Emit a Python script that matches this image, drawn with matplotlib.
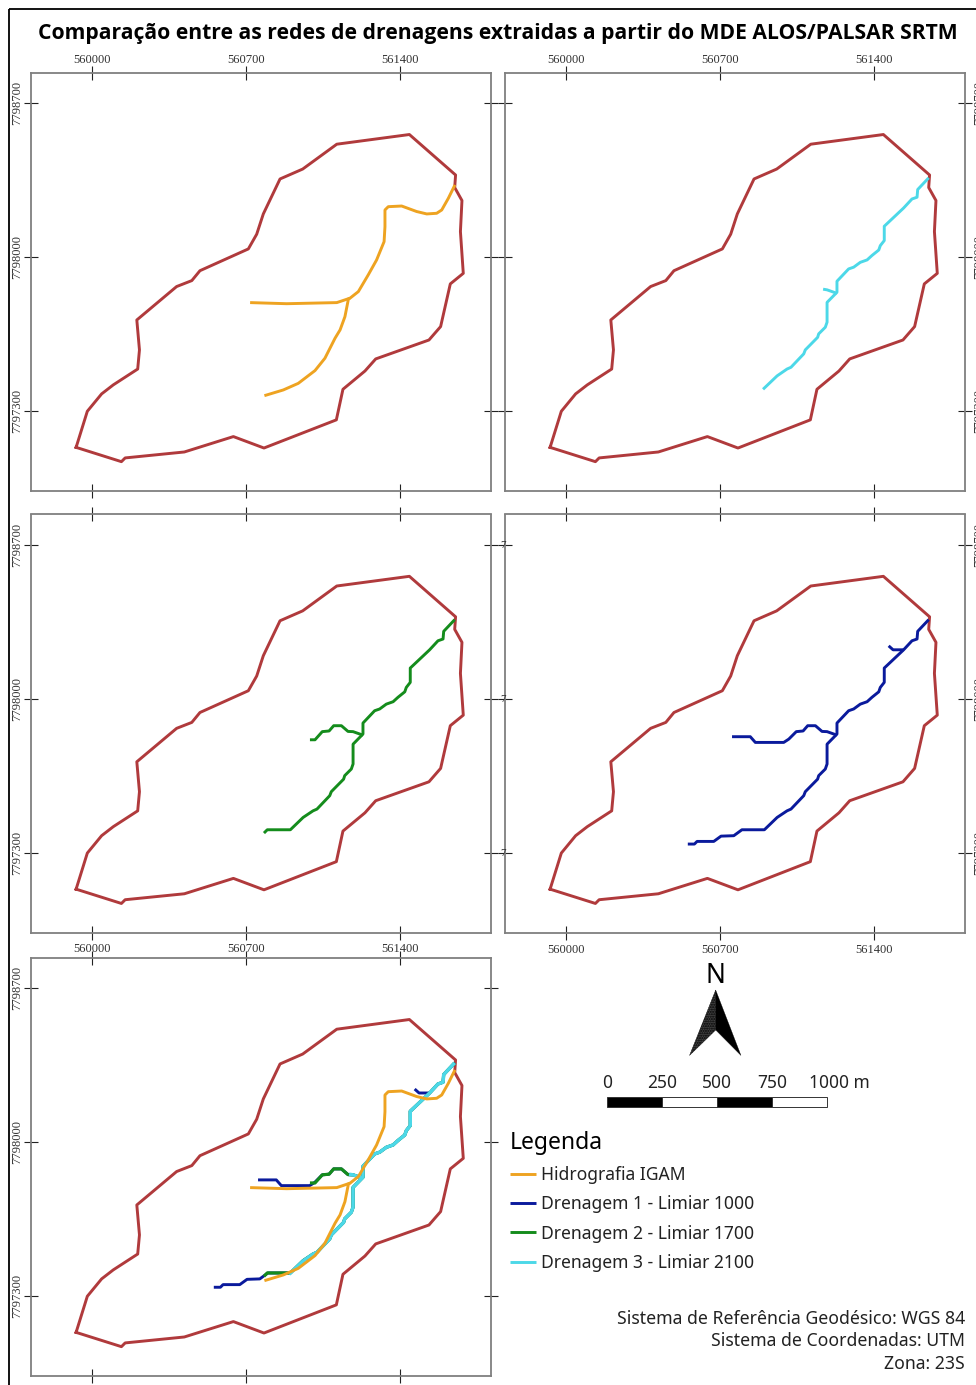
import matplotlib
matplotlib.use("Agg")
import matplotlib.pyplot as plt
from matplotlib.patches import Polygon, Rectangle

W, H = 976, 1385

# limite da bacia (UTM 23S, metros)
bacia_x = [559929, 559980, 560045, 560098, 560209, 560217, 560205, 560386, 560455, 560492, 560712, 560750,
           560780, 560856, 560959, 561114, 561444, 561654, 561650, 561683, 561676, 561689, 561630, 561586,
           561533, 561291, 561242, 561142, 561112, 560783, 560644, 560421, 560152, 560135, 559929]
bacia_y = [7797136, 7797300, 7797379, 7797420, 7797492, 7797579, 7797715, 7797867, 7797894, 7797939, 7798038, 7798105,
           7798197, 7798356, 7798401, 7798514, 7798558, 7798374, 7798317, 7798258, 7798117, 7797927, 7797879, 7797685,
           7797624, 7797538, 7797483, 7797400, 7797261, 7797133, 7797185, 7797115, 7797088, 7797071, 7797136]

# hidrografia IGAM
igam_x = [560785, 560871, 560939, 561015, 561060, 561106, 561129, 561151, 561167, 561174, 561212, 561257,
          561295, 561329, 561333, 561333, 561348, 561409, 561477, 561523, 561568, 561591, 561621, 561651]
igam_y = [7797371, 7797397, 7797427, 7797485, 7797541, 7797632, 7797670, 7797730, 7797811, 7797814, 7797844, 7797920,
          7797988, 7798071, 7798139, 7798215, 7798230, 7798233, 7798208, 7798197, 7798200, 7798215, 7798268, 7798329]
igam_trib_x = [560720, 560886, 561114, 561174]
igam_trib_y = [7797794, 7797789, 7797794, 7797814]

# drenagem 1 - limiar 1000
d1_x = [560555, 560585, 560597, 560673, 560706, 560764, 560801, 560903, 560961, 561006, 561024, 561082, 561089,
        561145, 561150, 561180, 561188, 561188, 561233, 561233, 561286, 561309, 561339, 561370, 561392, 561423,
        561430, 561448, 561448, 561536, 561574, 561597, 561600, 561650]
d1_y = [7797341, 7797341, 7797353, 7797353, 7797377, 7797379, 7797406, 7797406, 7797462, 7797492, 7797500, 7797561, 7797579,
        7797636, 7797652, 7797682, 7797705, 7797795, 7797841, 7797891, 7797947, 7797955, 7797977, 7797988, 7798008, 7798033,
        7798053, 7798076, 7798141, 7798224, 7798265, 7798273, 7798308, 7798361]
d1_trib_x = [560756, 560839, 560862, 560991, 561014, 561048, 561079, 561100, 561135, 561165, 561188, 561233]
d1_trib_y = [7797829, 7797829, 7797803, 7797803, 7797818, 7797852, 7797855, 7797879, 7797879, 7797853, 7797852, 7797836]
d1_trib2_x = [561468, 561488, 561536]
d1_trib2_y = [7798242, 7798224, 7798224]

# drenagem 2 - limiar 1700
d2_x = [560783, 560798, 560903, 560961, 561006, 561024, 561082, 561089,
        561145, 561150, 561180, 561188, 561188, 561233, 561233, 561286, 561309, 561339, 561370, 561392, 561423,
        561430, 561448, 561448, 561536, 561574, 561597, 561600, 561650]
d2_y = [7797391, 7797406, 7797406, 7797462, 7797492, 7797500, 7797561, 7797579,
        7797636, 7797652, 7797682, 7797705, 7797795, 7797841, 7797891, 7797947, 7797955, 7797977, 7797988, 7798008, 7798033,
        7798053, 7798076, 7798141, 7798224, 7798265, 7798273, 7798308, 7798361]
d2_trib_x = [560992, 561015, 561048, 561079, 561100, 561135, 561165, 561188, 561233]
d2_trib_y = [7797815, 7797815, 7797852, 7797855, 7797879, 7797879, 7797853, 7797852, 7797836]

# drenagem 3 - limiar 2100
d3_x = [560897, 560961, 561006, 561024, 561082, 561089,
        561145, 561150, 561180, 561188, 561188, 561233, 561233, 561286, 561309, 561339, 561370, 561392, 561423,
        561430, 561448, 561448, 561536, 561574, 561597, 561600, 561650]
d3_y = [7797400, 7797461, 7797492, 7797500, 7797561, 7797579,
        7797636, 7797652, 7797682, 7797705, 7797795, 7797841, 7797891, 7797947, 7797955, 7797977, 7797988, 7798008, 7798033,
        7798053, 7798076, 7798141, 7798224, 7798265, 7798273, 7798308, 7798361]
d3_trib_x = [561170, 561188, 561233]
d3_trib_y = [7797855, 7797852, 7797836]

x_ticks = [560000, 560700, 561400]
y_ticks = [7797300, 7798000, 7798700]
x_labels = ["560000", "560700", "561400"]
y_labels = ["7797300", "7798000", "7798700"]

legend_labels = ["Hidrografia IGAM", "Drenagem 1 - Limiar 1000", "Drenagem 2 - Limiar 1700", "Drenagem 3 - Limiar 2100"]
scale_values = [0, 250, 500, 750, 1000]
scale_labels = ["0", "250", "500", "750", "1000 m"]
info_lines = ["Sistema de Referência Geodésico: WGS 84", "Sistema de Coordenadas: UTM", "Zona: 23S"]

C_BACIA = "#b03a3c"
C_IGAM = "#eea321"
C_D1 = "#0a1a9c"
C_D2 = "#148c1c"
C_D3 = "#4cd8e8"
LW = 2.1
plt.rcParams["font.family"] = ["Noto Sans", "DejaVu Sans"]

fig = plt.figure(figsize=(W / 100, H / 100), dpi=100)


def panel(left, top, labelleft=False, labeltop=False, labelbottom=False, labelright=False):
    ax = fig.add_axes([left / W, 1 - (top + 418) / H, 460 / W, 418 / H])
    ax.set_xlim(559724, 561815)
    ax.set_ylim(7796939, 7798839)
    ax.set_xticks(x_ticks, x_labels)
    ax.set_yticks(y_ticks, y_labels)
    ax.tick_params(axis="both", direction="inout", length=9.5, width=0.8, color="#222222", top=True, right=True,
                   labelsize=9, labelcolor="#333333", labelfontfamily="Liberation Serif", pad=1,
                   labelleft=labelleft, labeltop=labeltop, labelbottom=labelbottom, labelright=labelright)
    ax.tick_params(axis="y", labelrotation=90)
    for t in ax.get_yticklabels():
        t.set_va("center")
    for s in ax.spines.values():
        s.set_color("#7f7f7f")
        s.set_linewidth(1.3)
    ax.plot(bacia_x, bacia_y, color=C_BACIA, lw=LW, zorder=2)
    return ax


def linhas(ax, xs, ys, color, z, lw=LW):
    line = None
    for a, b in zip(xs, ys):
        line, = ax.plot(a, b, color=color, lw=lw, zorder=z, solid_capstyle="butt")
    return line


ax1 = panel(31, 72.7, labelleft=True, labeltop=True)
ax1.tick_params(axis="x", pad=0.3)
linhas(ax1, [igam_x, igam_trib_x], [igam_y, igam_trib_y], C_IGAM, 3)

ax2 = panel(505, 72.7, labeltop=True, labelright=True)
ax2.tick_params(axis="x", pad=0.3)
linhas(ax2, [d3_x, d3_trib_x], [d3_y, d3_trib_y], C_D3, 3)

ax3 = panel(31, 514.5, labelleft=True)
linhas(ax3, [d2_x, d2_trib_x], [d2_y, d2_trib_y], C_D2, 3)

ax4 = panel(505, 514.5, labelbottom=True, labelright=True)
ax4.tick_params(axis="x", pad=3.5)
linhas(ax4, [d1_x, d1_trib_x, d1_trib2_x], [d1_y, d1_trib_y, d1_trib2_y], C_D1, 3)

ax5 = panel(31, 957.7, labelleft=True, labeltop=True)
ax5.tick_params(axis="x", pad=-2.5)
h1 = linhas(ax5, [d1_x, d1_trib_x, d1_trib2_x], [d1_y, d1_trib_y, d1_trib2_y], C_D1, 3)
h2 = linhas(ax5, [d2_x, d2_trib_x], [d2_y, d2_trib_y], C_D2, 4, lw=LW + 0.2)
h3 = linhas(ax5, [d3_x, d3_trib_x], [d3_y, d3_trib_y], C_D3, 5, lw=LW + 0.4)
h0 = linhas(ax5, [igam_x, igam_trib_x], [igam_y, igam_trib_y], C_IGAM, 6)

# camada em pixels para moldura, titulo, norte e escala
over = fig.add_axes([0, 0, 1, 1], zorder=10)
over.set_xlim(0, W)
over.set_ylim(H, 0)
over.axis("off")
over.patch.set_alpha(0)

over.plot([9, 9], [H, 9], color="black", lw=1.3, solid_capstyle="butt")
over.plot([9, W], [9, 9], color="black", lw=1.3, solid_capstyle="butt")
over.text(497.5, 33.5, "Comparação entre as redes de drenagens extraidas a partir do MDE ALOS/PALSAR SRTM",
          ha="center", va="center", fontsize=15.25, fontweight="bold", color="black", family="Open Sans")

# pedaco do rotulo que sobra entre os paineis 3 e 4
for yp in (546, 700, 853):
    over.text(503, yp, "7", ha="center", va="center", fontsize=8, color="#333333", family="Liberation Serif")

# norte
over.text(715, 976, "N", ha="center", va="center", fontsize=19, color="black")
over.add_patch(Polygon([(715.7, 990), (689.5, 1055.5), (715.7, 1030)], closed=True, facecolor="#444444",
                       edgecolor="black", hatch=".......", lw=0.2))
over.add_patch(Polygon([(715.7, 990), (741, 1055.5), (715.7, 1030)], closed=True, facecolor="black",
                       edgecolor="black", lw=0.2))

# barra de escala
px_m = 0.2206
x0 = 606.7
for i in range(4):
    xa = x0 + scale_values[i] * px_m
    xb = x0 + scale_values[i + 1] * px_m
    over.add_patch(Rectangle((xa, 1097), xb - xa, 10, facecolor="black" if i % 2 == 0 else "white",
                             edgecolor="#333333", lw=0.7))
for v, lab in zip(scale_values[:-1], scale_labels[:-1]):
    over.text(x0 + v * px_m, 1082.5, lab, ha="center", va="center", fontsize=12.5, color="#222222")
over.text(809, 1082.5, scale_labels[-1], ha="left", va="center", fontsize=12.5, color="#222222")

# legenda
leg = fig.legend([h0, h1, h2, h3], legend_labels, title="Legenda", loc="upper left",
                 bbox_to_anchor=(510 / W, 1 - 1131 / H),
                 frameon=False, alignment="left", fontsize=12.6, title_fontsize=16.5, handlelength=1.49,
                 handletextpad=0.3, labelspacing=0.64, borderpad=0, borderaxespad=0, labelcolor="#222222")
for ln in leg.get_lines():
    ln.set_linewidth(LW)

for i, txt in enumerate(info_lines):
    over.text(965, 1319 + i * 22.5, txt, ha="right", va="center", fontsize=12.7, color="#222222")

fig.savefig("out.png", dpi=100)
